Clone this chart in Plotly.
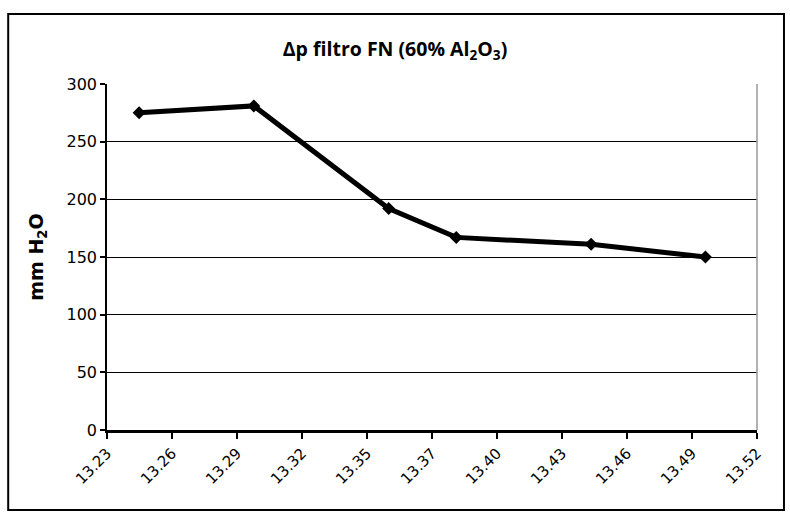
import plotly.graph_objects as go

# Data
times = ["13:24:26", "13:29:33", "13:35:34", "13:38:35", "13:44:36", "13:49:42"]
dp_values = [275, 281, 192, 167, 161, 150]
tick_labels = ["13.23", "13.26", "13.29", "13.32", "13.35", "13.37",
               "13.40", "13.43", "13.46", "13.49", "13.52"]
y_ticks = [0, 50, 100, 150, 200, 250, 300]

def to_min(t):
    h, m, s = (int(v) for v in t.split(":"))
    return (h - 13) * 60 + m + s / 60.0

x_min = [to_min(t) for t in times]
x_start, x_end = 23.0, 52.0
n = len(tick_labels)
tick_vals = [x_start + i * (x_end - x_start) / (n - 1) for i in range(n)]

fig = go.Figure()
fig.add_trace(go.Scatter(
    x=x_min, y=dp_values, mode="lines+markers",
    line=dict(color="black", width=5),
    marker=dict(symbol="diamond", size=10, color="black"),
    showlegend=False,
))

fig.update_layout(
    width=790, height=515,
    margin=dict(l=107, r=33, t=84, b=85),
    paper_bgcolor="white", plot_bgcolor="white",
    title=dict(
        text="<b>Δp filtro FN (60% Al<sub>2</sub>O<sub>3</sub>)</b>",
        x=0.5, xanchor="center", y=0.905, yanchor="middle",
        font=dict(family="Open Sans", size=19.5, color="black"),
    ),
    xaxis=dict(
        range=[x_start, x_end], tickvals=tick_vals, ticktext=tick_labels,
        tickangle=-45, ticks="outside", ticklen=6, tickwidth=1.5, tickcolor="black",
        showline=True, linecolor="black", linewidth=2.5,
        showgrid=False, zeroline=False,
        tickfont=dict(family="DejaVu Sans", size=15, color="black"),
    ),
    yaxis=dict(
        range=[0, 300], tickvals=y_ticks,
        ticks="outside", ticklen=5, tickwidth=1.5, tickcolor="black",
        showline=True, linecolor="black", linewidth=1.5,
        showgrid=True, gridcolor="black", gridwidth=1,
        zeroline=False,
        tickfont=dict(family="DejaVu Sans", size=16, color="black"),
        title=dict(text="<b>mm H<sub>2</sub>O</b>", standoff=18,
                   font=dict(family="DejaVu Sans", size=19, color="black")),
    ),
    shapes=[
        dict(type="rect", xref="paper", yref="paper",
             x0=-0.152, x1=1.0415, y0=-0.231, y1=1.202,
             line=dict(color="black", width=2)),
        dict(type="line", xref="paper", yref="paper",
             x0=1, x1=1, y0=0, y1=1, line=dict(color="#999999", width=1.5)),
    ],
)

fig.write_html("out.html", config={"displayModeBar": False},
               post_script="document.body.style.margin='0';")
